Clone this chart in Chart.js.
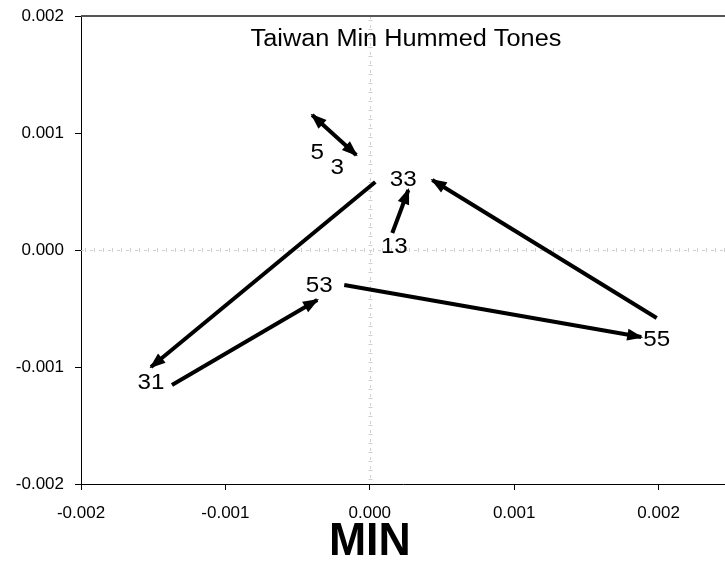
<!DOCTYPE html>
<html>
<head>
<meta charset="utf-8">
<script src="https://cdn.jsdelivr.net/npm/chart.js@4"></script>
<style>
    html, body { margin: 0; padding: 0; background: #fff; overflow: hidden; }
    #wrap { width: 725px; height: 563px; }
</style>
</head>
<body>
<div id="wrap"><canvas id="toneChart"></canvas></div>
<script>
// Arrow segments (from -> to), in axis units
const arrowFromX = [-0.0000936, 0.0000381, 0.000156, 0.001987, -0.000177, -0.00137];
const arrowFromY = [0.000812, 0.000581, 0.000145, -0.000581, -0.000299, -0.001154];
const arrowToX = [-0.000399, -0.001515, 0.000267, 0.000433, 0.00188, -0.000364];
const arrowToY = [0.001154, -0.001, 0.000513, 0.000598, -0.000744, -0.000427];
const arrowBothEnds = [true, false, false, false, false, false];

// Tone labels
const toneLabels = ['5', '3', '33', '13', '53', '31', '55'];
const toneLabelX = [-0.000364, -0.000225, 0.000232, 0.00017, -0.00035, -0.001515, 0.001987];
const toneLabelY = [0.000829, 0.000701, 0.000598, 0.0000256, -0.000308, -0.001137, -0.000769];

const xTicks = [-0.002, -0.001, 0, 0.001, 0.002];
const yTicks = [-0.002, -0.001, 0, 0.001, 0.002];

const FONT = "'Liberation Sans', Arial, sans-serif";

function fmt(v) {
    if (Math.abs(v) < 1e-9) return '0.000';
    return v.toFixed(3);
}

function stretchedText(ctx, str, px, py, font, sx) {
    ctx.save();
    ctx.translate(px, py);
    ctx.scale(sx, 1);
    ctx.font = font;
    ctx.textAlign = 'center';
    ctx.textBaseline = 'middle';
    ctx.fillStyle = '#000';
    ctx.fillText(str, 0, 0);
    ctx.restore();
}

function arrowHead(ctx, fx, fy, tx, ty) {
    const ang = Math.atan2(ty - fy, tx - fx);
    const c = Math.cos(ang), s = Math.sin(ang);
    const len = 16, half = 6;
    const tipX = tx + 2 * c, tipY = ty + 2 * s;
    ctx.beginPath();
    ctx.moveTo(tipX, tipY);
    ctx.lineTo(tipX - len * c + half * s, tipY - len * s - half * c);
    ctx.lineTo(tipX - len * c - half * s, tipY - len * s + half * c);
    ctx.closePath();
    ctx.fill();
}

const decorations = {
    id: 'decorations',
    beforeDatasetsDraw(chart) {
        const { ctx, chartArea: a, scales: { x, y } } = chart;
        const x0 = Math.round(x.getPixelForValue(0)) + 0.5;
        const y0 = Math.round(y.getPixelForValue(0)) + 0.5;
        ctx.save();
        ctx.strokeStyle = '#cfcfcf';
        // thin dashed zero lines
        ctx.lineWidth = 1;
        ctx.setLineDash([3, 6]);
        ctx.beginPath();
        ctx.moveTo(x0, a.top); ctx.lineTo(x0, a.bottom);
        ctx.moveTo(a.left, y0); ctx.lineTo(a.right, y0);
        ctx.stroke();
        // little minor tick marks along them
        ctx.lineWidth = 4;
        ctx.setLineDash([1, 8]);
        ctx.beginPath();
        ctx.moveTo(x0, a.top + 4); ctx.lineTo(x0, a.bottom);
        ctx.moveTo(a.left + 4, y0 - 0.5); ctx.lineTo(a.right, y0 - 0.5);
        ctx.stroke();
        ctx.restore();
    },
    afterDatasetsDraw(chart) {
        const { ctx, chartArea: a, scales: { x, y } } = chart;
        ctx.save();
        ctx.fillStyle = '#000';
        arrowFromX.forEach((fx, i) => {
            const px1 = x.getPixelForValue(fx), py1 = y.getPixelForValue(arrowFromY[i]);
            const px2 = x.getPixelForValue(arrowToX[i]), py2 = y.getPixelForValue(arrowToY[i]);
            arrowHead(ctx, px1, py1, px2, py2);
            if (arrowBothEnds[i]) arrowHead(ctx, px2, py2, px1, py1);
        });

        toneLabels.forEach((t, i) => {
            stretchedText(ctx, t, x.getPixelForValue(toneLabelX[i]), y.getPixelForValue(toneLabelY[i]),
                '22px ' + FONT, 1.1);
        });

        // title inside the plot
        stretchedText(ctx, 'Taiwan Min Hummed Tones', 406, 40, '23px ' + FONT, 1.1);

        // axis name centred on x = 0
        stretchedText(ctx, 'MIN', x.getPixelForValue(0), 542, 'bold 46px ' + FONT, 0.97);

        // top border of the plot area
        ctx.strokeStyle = '#555';
        ctx.lineWidth = 2;
        ctx.beginPath();
        ctx.moveTo(a.left, a.top);
        ctx.lineTo(a.right, a.top);
        ctx.stroke();
        ctx.restore();
    }
};

new Chart(document.getElementById('toneChart'), {
    type: 'scatter',
    data: {
        datasets: arrowFromX.map((fx, i) => ({
            data: [{ x: fx, y: arrowFromY[i] }, { x: arrowToX[i], y: arrowToY[i] }],
            showLine: true,
            borderColor: '#000',
            borderWidth: 4,
            borderCapStyle: 'butt',
            pointRadius: 0,
            pointHoverRadius: 0
        }))
    },
    options: {
        responsive: true,
        maintainAspectRatio: false,
        animation: false,
        layout: { padding: { top: 16, left: 0, right: 0, bottom: 0 } },
        plugins: {
            legend: { display: false },
            title: { display: false },
            tooltip: { enabled: false }
        },
        scales: {
            x: {
                type: 'linear',
                min: -0.002,
                max: 0.00246,
                afterBuildTicks: s => { s.ticks = xTicks.map(v => ({ value: v })); },
                afterFit: s => { s.height = 79; s.paddingLeft = 0; s.paddingRight = 0; },
                ticks: {
                    callback: v => fmt(v),
                    font: { family: FONT, size: 17 },
                    color: '#000',
                    padding: 13,
                    maxRotation: 0,
                    autoSkip: false
                },
                grid: { drawOnChartArea: false, drawTicks: true, tickLength: 6, color: '#000' },
                border: { display: true, color: '#000', width: 1 }
            },
            y: {
                type: 'linear',
                min: -0.002,
                max: 0.002,
                afterBuildTicks: s => { s.ticks = yTicks.map(v => ({ value: v })); },
                afterFit: s => { s.width = 81; s.paddingTop = 0; s.paddingBottom = 0; },
                ticks: {
                    callback: v => fmt(v),
                    font: { family: FONT, size: 17 },
                    color: '#000',
                    padding: 11,
                    autoSkip: false
                },
                grid: { drawOnChartArea: false, drawTicks: true, tickLength: 6, color: '#000' },
                border: { display: true, color: '#000', width: 1 }
            }
        }
    },
    plugins: [decorations]
});
</script>
</body>
</html>
